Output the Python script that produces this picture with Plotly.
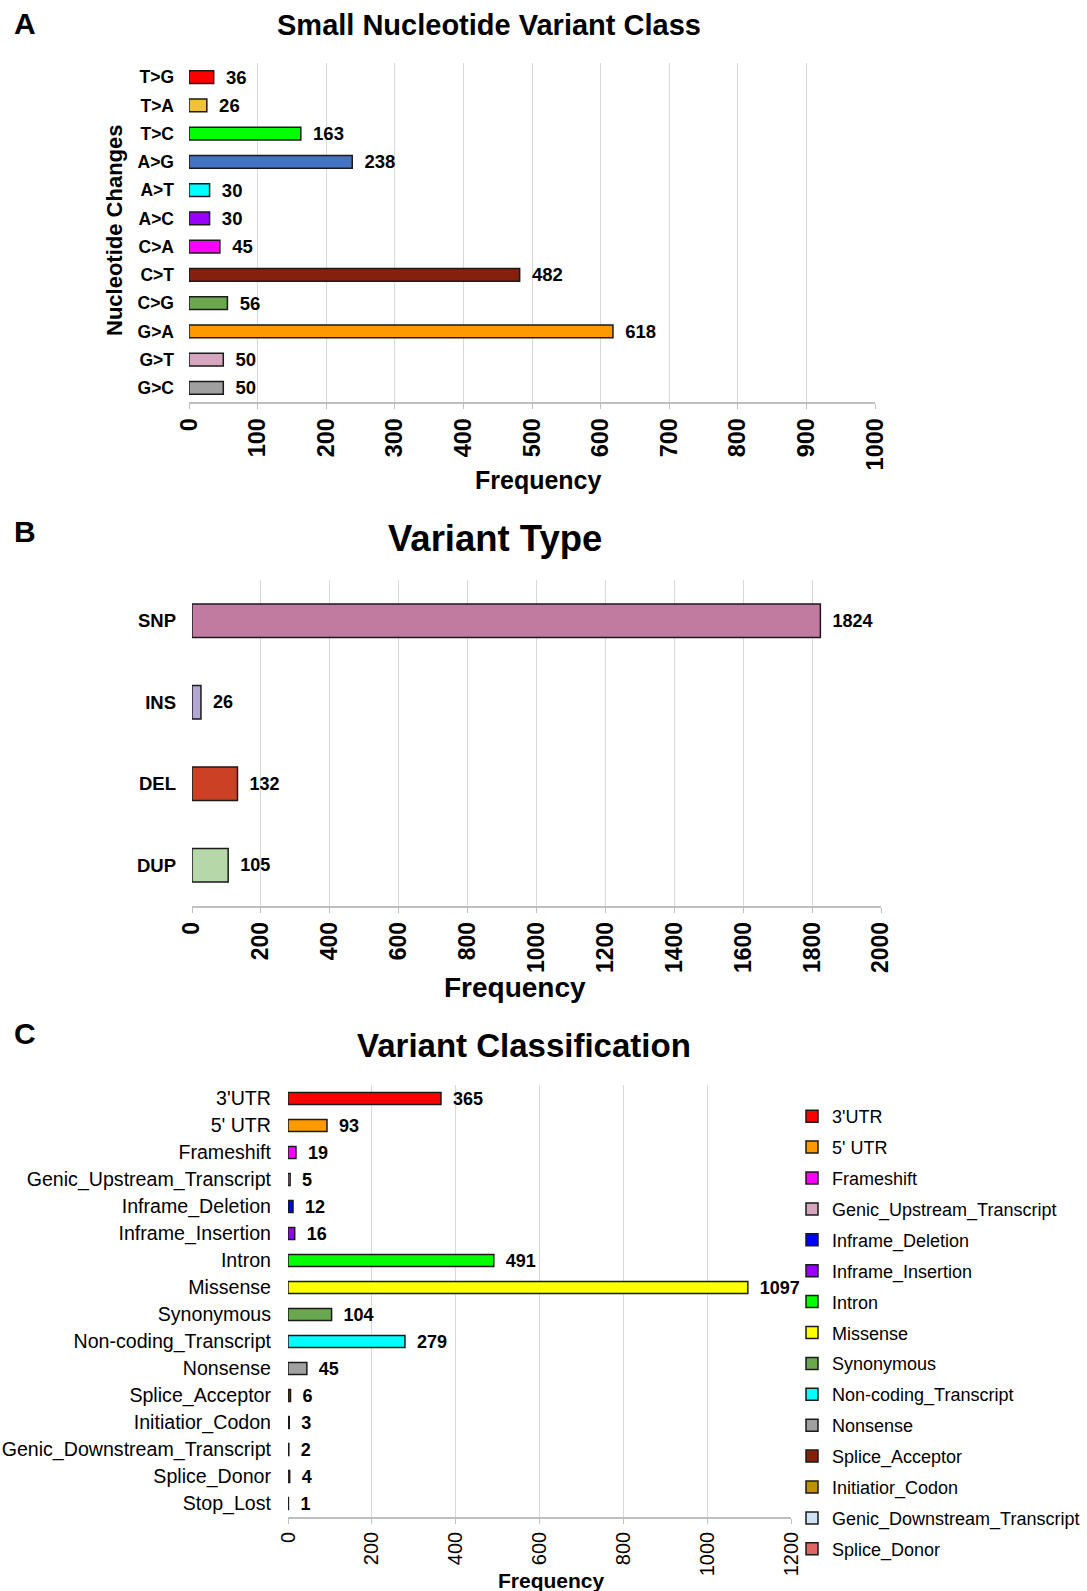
import plotly.graph_objects as go

W, H = 1087, 1591

# ---------------- data ----------------
snv_classes = ["T>G", "T>A", "T>C", "A>G", "A>T", "A>C", "C>A", "C>T", "C>G", "G>A", "G>T", "G>C"]
snv_counts = [36, 26, 163, 238, 30, 30, 45, 482, 56, 618, 50, 50]
snv_colors = ["#FF0000", "#F1C232", "#00FF00", "#4472C4", "#00FFFF", "#9900FF",
              "#FF00FF", "#85200C", "#6AA84F", "#FF9900", "#D5A6BD", "#A0A0A0"]
snv_ticks = list(range(0, 1001, 100))

vtype_names = ["SNP", "INS", "DEL", "DUP"]
vtype_counts = [1824, 26, 132, 105]
vtype_colors = ["#C27BA0", "#B4A7D6", "#CC4125", "#B6D7A8"]
vtype_ticks = list(range(0, 2001, 200))

vclass_names = ["3'UTR", "5' UTR", "Frameshift", "Genic_Upstream_Transcript", "Inframe_Deletion",
                "Inframe_Insertion", "Intron", "Missense", "Synonymous", "Non-coding_Transcript",
                "Nonsense", "Splice_Acceptor", "Initiatior_Codon", "Genic_Downstream_Transcript",
                "Splice_Donor", "Stop_Lost"]
vclass_counts = [365, 93, 19, 5, 12, 16, 491, 1097, 104, 279, 45, 6, 3, 2, 4, 1]
vclass_colors = ["#FF0000", "#FF9900", "#FF00FF", "#D5A6BD", "#0000FF", "#9900FF", "#00FF00",
                 "#FFFF00", "#6AA84F", "#00FFFF", "#A0A0A0", "#85200C", "#BF9000", "#CFE2F3",
                 "#E06666", "#FFFFFF"]
vclass_in_legend = [True] * 15 + [False]
vclass_ticks = list(range(0, 1201, 200))

FONT = "Liberation Sans, Arial, sans-serif"
GRID = "#D9D9D9"
AXL = "#BFBFBF"
PAD = "\u2002"


def px_x(p):
    return p / W


def px_y(p):
    return 1 - p / H


fig = go.Figure()

# Panel A
fig.add_trace(go.Bar(
    x=snv_counts, y=snv_classes, orientation="h", width=0.45,
    marker=dict(color=snv_colors, line=dict(color="#1a1a1a", width=1.5)),
    text=[f"{PAD}<b>{v}</b>" for v in snv_counts], textposition="outside",
    constraintext="none",
    textfont=dict(family=FONT, size=18.5, color="black"), cliponaxis=False,
    showlegend=False, xaxis="x", yaxis="y"))

# Panel B
fig.add_trace(go.Bar(
    x=vtype_counts, y=vtype_names, orientation="h", width=0.41,
    marker=dict(color=vtype_colors, line=dict(color="#1a1a1a", width=1.5)),
    text=[f"{PAD}<b>{v}</b>" for v in vtype_counts], textposition="outside",
    constraintext="none",
    textfont=dict(family=FONT, size=18, color="black"), cliponaxis=False,
    showlegend=False, xaxis="x2", yaxis="y2"))

# Panel C
for i, (n, v, c) in enumerate(zip(vclass_names, vclass_counts, vclass_colors)):
    fig.add_trace(go.Bar(
        x=[v], y=[n], orientation="h", width=0.44, name=n,
        marker=dict(color=c, line=dict(color="#1a1a1a", width=1.5)),
        text=[f"{PAD}<b>{v}</b>"], textposition="outside", constraintext="none",
        textfont=dict(family=FONT, size=18, color="black"), cliponaxis=False,
        showlegend=vclass_in_legend[i], legendgroup=n, xaxis="x3", yaxis="y3"))


def xax(domain, anchor, ticks, rng, size, bold):
    return dict(domain=domain, anchor=anchor, range=rng, tickvals=ticks,
                ticktext=[f"<b>{t}</b>" if bold else str(t) for t in ticks],
                tickangle=-90, showgrid=True, gridcolor=GRID, gridwidth=1,
                zeroline=False, showline=True, linecolor=AXL, linewidth=1.5,
                ticks="outside", ticklen=5, tickcolor=AXL, automargin=False,
                tickfont=dict(family=FONT, size=size, color="black"), fixedrange=True)


def yax(domain, anchor, cats, size, bold, standoff):
    return dict(domain=domain, anchor=anchor, categoryorder="array", categoryarray=cats,
                autorange="reversed", showgrid=False, zeroline=False, showline=False,
                ticks="", ticklabelstandoff=standoff, automargin=False,
                tickvals=cats, ticktext=[f"<b>{c}</b>" if bold else c for c in cats],
                tickfont=dict(family=FONT, size=size, color="black"))


fig.update_layout(
    width=W, height=H, margin=dict(l=0, r=0, t=0, b=0, autoexpand=False),
    paper_bgcolor="white", plot_bgcolor="white", barmode="overlay",
    font=dict(family=FONT, color="black"),
    xaxis=xax([px_x(189), px_x(875)], "y", snv_ticks, [0, 1000], 23.5, True),
    yaxis=yax([px_y(402), px_y(63)], "x", snv_classes, 17.5, True, 14),
    xaxis2=xax([px_x(192), px_x(881)], "y2", vtype_ticks, [0, 2000], 23, True),
    yaxis2=yax([px_y(906), px_y(580)], "x2", vtype_names, 18.5, True, 15),
    xaxis3=xax([px_x(288), px_x(791)], "y3", vclass_ticks, [0, 1200], 20, False),
    yaxis3=yax([px_y(1517), px_y(1085)], "x3", vclass_names, 19.6, False, 16),
    legend=dict(x=px_x(792), y=px_y(1098), xanchor="left", yanchor="top",
                font=dict(family=FONT, size=18, color="black"),
                tracegroupgap=4.5, itemwidth=30, bgcolor="rgba(0,0,0,0)"),
)

ann = [
    ("<b>A</b>", 12, 23, 30, "left", 0),
    ("<b>B</b>", 12, 531, 30, "left", 0),
    ("<b>C</b>", 12, 1033, 30, "left", 0),
    ("<b>Small Nucleotide Variant Class</b>", 489, 25, 29, "center", 0),
    ("<b>Variant Type</b>", 495, 538, 36.5, "center", 0),
    ("<b>Variant Classification</b>", 524, 1045, 33, "center", 0),
    ("<b>Frequency</b>", 538, 480, 25, "center", 0),
    ("<b>Frequency</b>", 515, 987, 28, "center", 0),
    ("<b>Frequency</b>", 551, 1580, 21, "center", 0),
    ("<b>Nucleotide Changes</b>", 114, 231, 22, "center", -90),
]
for t, x, y, s, xa, ang in ann:
    fig.add_annotation(text=t, x=px_x(x), y=px_y(y), xref="paper", yref="paper",
                       xanchor=xa, yanchor="middle", showarrow=False, textangle=ang,
                       font=dict(family=FONT, size=s, color="black"))

fig.write_html("out.html", config={"displayModeBar": False},
               post_script="document.body.style.margin='0';")
